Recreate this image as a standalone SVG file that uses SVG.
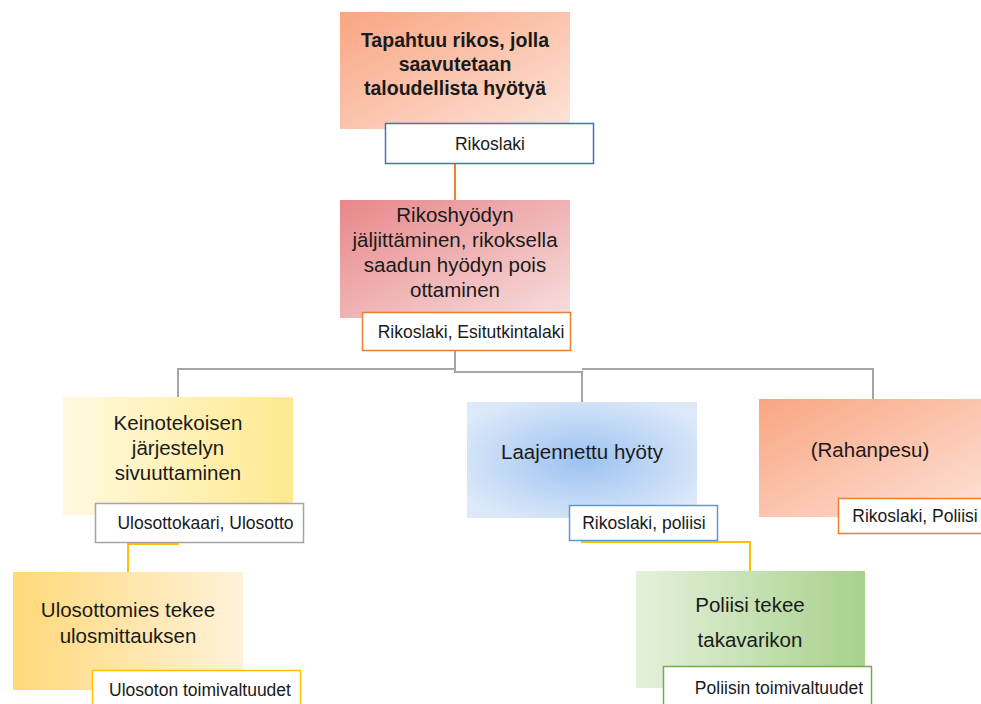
<svg xmlns="http://www.w3.org/2000/svg" width="981" height="704" viewBox="0 0 981 704">
<defs>
<linearGradient id="gOrange" x1="0" y1="0" x2="1" y2="1"><stop offset="0" stop-color="#f9a581"/><stop offset="1" stop-color="#fde3d9"/></linearGradient>
<linearGradient id="gRed" x1="0" y1="0" x2="1" y2="1"><stop offset="0" stop-color="#e8878a"/><stop offset="1" stop-color="#f7dede"/></linearGradient>
<linearGradient id="gYellow" x1="0" y1="0" x2="1" y2="0"><stop offset="0" stop-color="#fff9e0"/><stop offset="1" stop-color="#ffe98f"/></linearGradient>
<linearGradient id="gGold" x1="0" y1="0" x2="1" y2="0"><stop offset="0" stop-color="#ffd878"/><stop offset="1" stop-color="#fff2db"/></linearGradient>
<linearGradient id="gGreen" x1="0" y1="0" x2="1" y2="0"><stop offset="0" stop-color="#e4f1dc"/><stop offset="1" stop-color="#a8d18c"/></linearGradient>
<radialGradient id="gBlue" cx="0.5" cy="0.5" r="0.6"><stop offset="0" stop-color="#9cc2f1"/><stop offset="1" stop-color="#dde9f9"/></radialGradient>
<style>
.t{font-family:"Liberation Sans",Arial,sans-serif;font-size:20.5px;fill:#1a1a1a;text-anchor:middle}
.b{font-weight:bold;font-size:19.5px}
.l{font-family:"Liberation Sans",Arial,sans-serif;font-size:17.5px;fill:#1a1a1a;text-anchor:middle}
.lab{fill:#ffffff;stroke-width:1.5}
.gray{fill:none;stroke:#a5a5a5;stroke-width:2}
.yel{fill:none;stroke:#ffc000;stroke-width:2}
</style>
</defs>
<rect width="981" height="704" fill="#ffffff"/>
<g id="connectors">
<path class="gray" d="M455 351 V372 H582 V402"/>
<path class="gray" d="M455 369 H178 V397"/>
<path class="gray" d="M582 369 H873 V399"/>
<path fill="none" stroke="#ed7d31" stroke-width="2" d="M455 163 V200"/>
<path class="yel" d="M178 520 V544 H128 V572"/>
<path class="yel" d="M582 518 V542 H750 V571"/>
</g>
<g id="n1">
<rect x="340" y="12" width="230" height="117" fill="url(#gOrange)"/>
<text class="t b" x="455" y="47">Tapahtuu rikos, jolla</text>
<text class="t b" x="455" y="71">saavutetaan</text>
<text class="t b" x="455" y="95">taloudellista hyötyä</text>
</g>
<g id="l1">
<rect class="lab" x="385.5" y="123.5" width="208" height="40" stroke="#4472c4"/>
<text class="l" x="490" y="150">Rikoslaki</text>
</g>
<g id="n2">
<rect x="340" y="200" width="230" height="118" fill="url(#gRed)"/>
<text class="t" x="455" y="222">Rikoshyödyn</text>
<text class="t" x="455" y="247">jäljittäminen, rikoksella</text>
<text class="t" x="455" y="272">saadun hyödyn pois</text>
<text class="t" x="455" y="297">ottaminen</text>
</g>
<g id="l2">
<rect class="lab" x="362.5" y="312.5" width="208" height="38" stroke="#ed7d31"/>
<text class="l" x="471" y="338">Rikoslaki, Esitutkintalaki</text>
</g>
<g id="n3">
<rect x="63" y="397" width="230" height="118" fill="url(#gYellow)"/>
<text class="t" x="178" y="430">Keinotekoisen</text>
<text class="t" x="178" y="455">järjestelyn</text>
<text class="t" x="178" y="480">sivuuttaminen</text>
</g>
<g id="l3">
<rect class="lab" x="95.5" y="503.5" width="208" height="39" stroke="#a5a5a5"/>
<text class="l" x="205.5" y="529">Ulosottokaari, Ulosotto</text>
</g>
<g id="n4">
<rect x="13" y="572" width="230" height="118" fill="url(#gGold)"/>
<text class="t" x="128" y="617">Ulosottomies tekee</text>
<text class="t" x="128" y="643">ulosmittauksen</text>
</g>
<g id="l4">
<rect class="lab" x="92.5" y="670.5" width="208" height="40" stroke="#ffc000"/>
<text class="l" x="200" y="696">Ulosoton toimivaltuudet</text>
</g>
<g id="n5">
<rect x="467" y="402" width="230" height="116" fill="url(#gBlue)"/>
<text class="t" x="582" y="459">Laajennettu hyöty</text>
</g>
<g id="l5">
<rect class="lab" x="569.5" y="505.5" width="148" height="35" stroke="#5b9bd5"/>
<text class="l" x="644" y="529">Rikoslaki, poliisi</text>
</g>
<g id="n6">
<rect x="636" y="571" width="229" height="117" fill="url(#gGreen)"/>
<text class="t" x="750" y="612">Poliisi tekee</text>
<text class="t" x="750" y="647">takavarikon</text>
</g>
<g id="l6">
<rect class="lab" x="663.5" y="666.5" width="208" height="42" stroke="#70ad47"/>
<text class="l" x="779" y="694">Poliisin toimivaltuudet</text>
</g>
<g id="n7">
<rect x="759" y="399" width="230" height="118" fill="url(#gOrange)"/>
<text class="t" x="870" y="457">(Rahanpesu)</text>
</g>
<g id="l7">
<rect class="lab" x="838.5" y="498.5" width="150" height="35" stroke="#ed7d31"/>
<text class="l" x="915" y="522">Rikoslaki, Poliisi</text>
</g>
</svg>
